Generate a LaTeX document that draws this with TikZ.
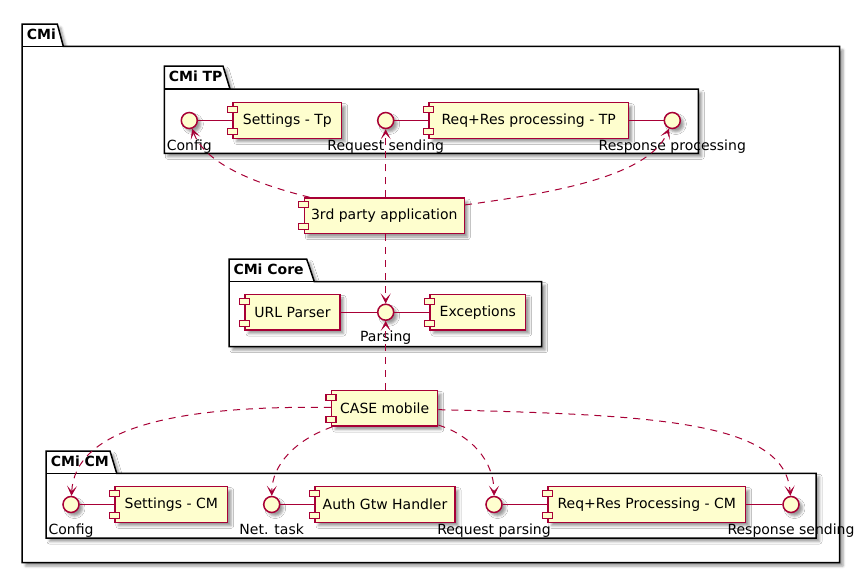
\documentclass[tikz,border=0pt]{standalone}
\usepackage{fontspec}
\setmainfont{DejaVu Sans}
\usetikzlibrary{arrows.meta,backgrounds,shadows.blur}
\definecolor{cfill}{HTML}{FEFECE}
\definecolor{cline}{HTML}{A80036}
\tikzset{
  shad/.style={blur shadow={shadow xshift=3.5pt,shadow yshift=-3.5pt,shadow blur radius=2.5pt,shadow opacity=40}},
  txt/.style={font=\fontsize{14}{16}\selectfont, text=black},
  comp/.style={txt, draw=cline, fill=cfill, line width=1.5pt, rectangle, minimum height=35.6pt, inner sep=0pt, shad},
  iface/.style={draw=cline, fill=cfill, line width=1.5pt, circle, minimum size=16pt, inner sep=0pt, shad},
  ilabel/.style={txt, anchor=base, inner sep=0pt},
  pkg/.style={draw=black, fill=white, line width=1.5pt, line join=miter, shad},
  pkgline/.style={draw=black, line width=1.5pt},
  pkgtitle/.style={anchor=base west, inner sep=0pt, font=\fontsize{14}{16}\selectfont\bfseries},
  link/.style={draw=cline, line width=1pt},
  dep/.style={link, dash pattern=on 7pt off 6pt, -{Stealth[length=10pt,width=10pt,inset=5.5pt,line width=0.6pt]}},
  knob/.style={draw=cline, fill=cfill, line width=1.2pt},
}
\newcommand\compdeco[1]{%
  \path[knob] ([xshift=-5pt,yshift=-4.5pt]#1.north west) rectangle ++(10pt,-6pt);
  \path[knob] ([xshift=-5pt,yshift=4.5pt]#1.south west) rectangle ++(10pt,6pt);
}
\begin{document}
\begin{tikzpicture}[x=1pt,y=-1pt]
\useasboundingbox (0,0) rectangle (867,573);

% ---------- CMi TP row ----------
\node[iface] (cfgtp) at (189.3,120.5) {};
\node[ilabel] (cfgtpL) at (189.3,150) {Config};
\node[comp, minimum width=108.7pt] (settp) at (287.3,120.5) {Settings - Tp};
\node[iface] (reqs) at (385.7,120.5) {};
\node[ilabel] (reqsL) at (385.7,150) {Request sending};
\node[comp, minimum width=199.3pt] (rrtp) at (528.7,120.5) {Req+Res processing - TP};
\node[iface] (resp) at (672.3,120.5) {};
\node[ilabel] (respL) at (672.3,150) {Response processing};

% ---------- 3rd party ----------
\node[comp, minimum width=160pt] (third) at (384.3,215.8) {3rd party application};

% ---------- CMi Core row ----------
\node[comp, minimum width=95pt] (url) at (292.5,312.2) {URL Parser};
\node[iface] (pars) at (385.7,312.2) {};
\node[ilabel] (parsL) at (385.7,341.7) {Parsing};
\node[comp, minimum width=95.7pt] (exc) at (477.8,312.2) {Exceptions};

% ---------- CASE mobile ----------
\node[comp, minimum width=106pt] (case) at (384.7,408.3) {CASE mobile};

% ---------- CMi CM row ----------
\node[iface] (cfgcm) at (71,504.5) {};
\node[ilabel] (cfgcmL) at (71,534) {Config};
\node[comp, minimum width=112.7pt] (setcm) at (171.3,504.5) {Settings - CM};
\node[iface] (net) at (271.7,504.5) {};
\node[ilabel] (netL) at (271.7,534) {Net. task};
\node[comp, minimum width=140pt] (auth) at (385,504.5) {Auth Gtw Handler};
\node[iface] (rqp) at (494,504.5) {};
\node[ilabel] (rqpL) at (494,534) {Request parsing};
\node[comp, minimum width=197.7pt] (rrcm) at (646.8,504.5) {Req+Res Processing - CM};
\node[iface] (rsnd) at (791,504.5) {};
\node[ilabel] (rsndL) at (791,534) {Response sending};

\foreach \c in {settp,rrtp,third,url,exc,case,setcm,auth,rrcm}{\compdeco{\c}}

% ---------- packages ----------
\begin{scope}[on background layer]
  % CMi
  \path[pkg] (22,46.3) -- (22,24) -- (57.3,24) -- (63.3,46.3) -- (839.5,46.3) -- (839.5,562.5) -- (22,562.5) -- cycle;
  \path[pkgline] (22,46.3) -- (63.3,46.3);
  \node[pkgtitle] (tCMi) at (26.7,39) {CMi};
  % CMi TP
  \path[pkg] (164.3,89) -- (164.3,66) -- (223,66) -- (230,89) -- (698.3,89) -- (698.3,153.3) -- (164.3,153.3) -- cycle;
  \path[pkgline] (164.3,89) -- (230,89);
  \node[pkgtitle] (tTP) at (168.6,81) {CMi TP};
  % CMi Core
  \path[pkg] (229,281.7) -- (229,259) -- (306.7,259) -- (314.3,281.7) -- (541.7,281.7) -- (541.7,346.7) -- (229,346.7) -- cycle;
  \path[pkgline] (229,281.7) -- (314.3,281.7);
  \node[pkgtitle] (tCore) at (233.3,274) {CMi Core};
  % CMi CM
  \path[pkg] (46,473.3) -- (46,451) -- (110,451) -- (116.7,473.3) -- (816,473.3) -- (816,538) -- (46,538) -- cycle;
  \path[pkgline] (46,473.3) -- (116.7,473.3);
  \node[pkgtitle] (tCM) at (50.6,466) {CMi CM};
\end{scope}

% ---------- solid links ----------
\draw[link] (cfgtp) -- (settp);
\draw[link] (reqs) -- (rrtp);
\draw[link] (rrtp) -- (resp);
\draw[link] (url) -- (pars);
\draw[link] (pars) -- (exc);
\draw[link] (cfgcm) -- (setcm);
\draw[link] (net) -- (auth);
\draw[link] (rqp) -- (rrcm);
\draw[link] (rrcm) -- (rsnd);

% ---------- dependencies ----------
\draw[dep] (third) .. controls (260,185) and (205,165) .. (cfgtp);
\draw[dep] (reqs |- third.north) -- (reqs);
\draw[dep] (third) .. controls (560,192) and (650,175) .. (resp);
\draw[dep] (pars |- third.south) -- (pars);
\draw[dep] (pars |- case.north) -- (pars);
\draw[dep] (case) .. controls (170,405) and (75,430) .. (cfgcm);
\draw[dep] (case) .. controls (295,440) and (272,465) .. (net);
\draw[dep] (case) .. controls (470,435) and (494,460) .. (rqp);
\draw[dep] (case) .. controls (650,415) and (785,420) .. (rsnd);
\end{tikzpicture}
\end{document}
